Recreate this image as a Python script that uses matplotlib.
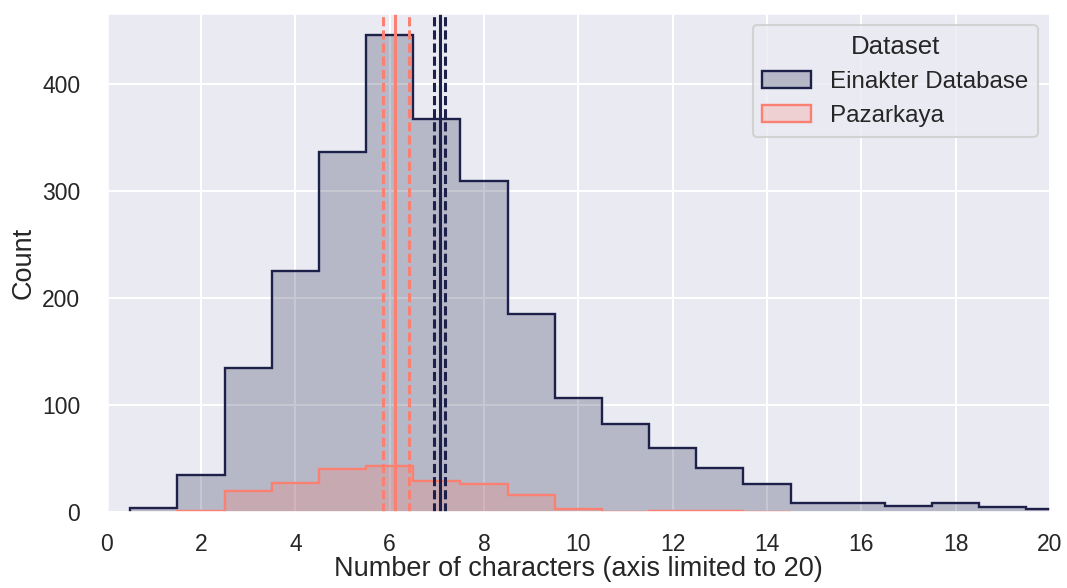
import matplotlib
matplotlib.use('Agg')
import matplotlib.pyplot as plt
import numpy as np
import seaborn as sns
from matplotlib.patches import Patch

sns.set_theme(context='talk', style='darkgrid')
plt.rcParams['font.family'] = ['Liberation Sans', 'DejaVu Sans']

# bins centred on integers, width 1 (counts)
einakter_edges = np.arange(0.5, 21.0, 1.0)
einakter_counts = [4, 35, 135, 225, 336, 445, 367, 309, 185, 107,
                   82, 60, 41, 26, 9, 9, 6, 9, 5, 3]
pazarkaya_edges = np.arange(1.5, 15.0, 1.0)
pazarkaya_counts = [1, 20, 27, 40, 43, 29, 26, 16, 3, 0, 1, 1, 0]

# mean (solid) and confidence bounds (dashed)
einakter_mean = 7.06
einakter_ci = [6.93, 7.18]
pazarkaya_mean = 6.12
pazarkaya_ci = [5.85, 6.41]

navy = '#1d2048'
salmon = '#fa8072'

fig, ax = plt.subplots(figsize=(10.67, 5.88), dpi=100)
fig.subplots_adjust(left=0.1, right=0.984, top=0.978, bottom=0.129)

ax.stairs(einakter_counts, einakter_edges, fill=True, color=navy, alpha=0.25, lw=0)
ax.stairs(pazarkaya_counts, pazarkaya_edges, fill=True, color=salmon, alpha=0.25, lw=0)
ax.stairs(einakter_counts, einakter_edges, color=navy, lw=1.7)
ax.stairs(pazarkaya_counts, pazarkaya_edges, color=salmon, lw=1.7)

dash = (0, (3.0, 1.3))
ax.axvline(pazarkaya_mean, color=salmon, lw=2.2)
for v in pazarkaya_ci:
    ax.axvline(v, color=salmon, lw=2.2, ls=dash)
ax.axvline(einakter_mean, color=navy, lw=2.2)
for v in einakter_ci:
    ax.axvline(v, color=navy, lw=2.2, ls=dash)

ax.set_xlim(0, 20)
ax.set_ylim(0, 466)
ax.set_xticks(range(0, 21, 2))
ax.set_yticks([0, 100, 200, 300, 400])
ax.tick_params(axis='both', labelsize=16.5)
ax.tick_params(axis='y', pad=10)
ax.tick_params(axis='x', pad=6)
ax.set_xlabel('Number of characters (axis limited to 20)', fontsize=19.5, labelpad=0)
ax.set_ylabel('Count', fontsize=19.5, labelpad=4)

handles = [Patch(facecolor=(0.114, 0.125, 0.282, 0.25), edgecolor=navy, lw=1.7),
           Patch(facecolor=(0.98, 0.50, 0.45, 0.25), edgecolor=salmon, lw=1.7)]
ax.legend(handles, ['Einakter Database', 'Pazarkaya'], title='Dataset',
          loc='upper right', fontsize=17.4, title_fontsize=18.6)

fig.savefig('out.png', dpi=100)
